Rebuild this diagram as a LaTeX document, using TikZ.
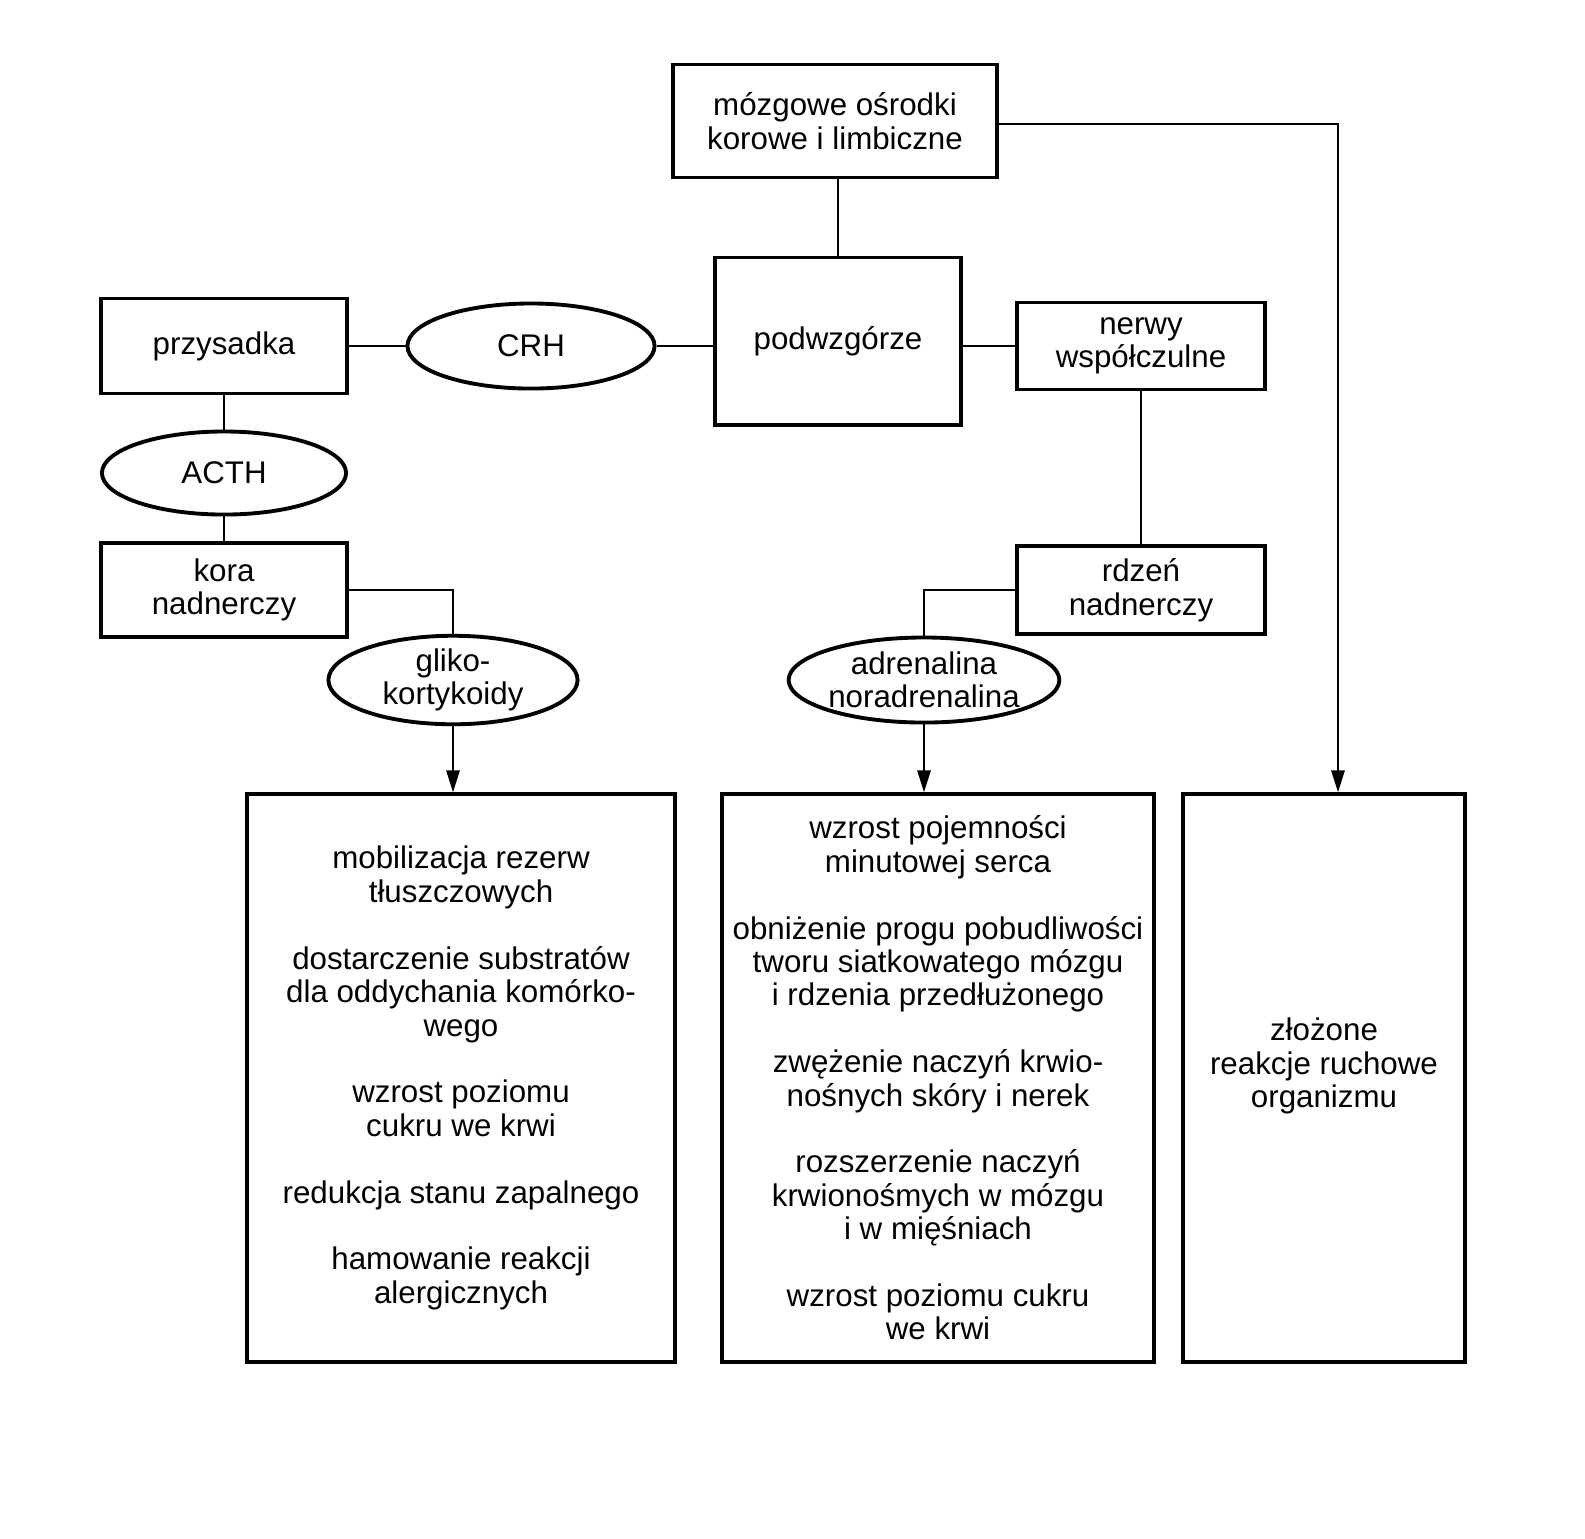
\documentclass[tikz,border=0pt]{standalone}
\usepackage{fontspec}
\setmainfont{Liberation Sans}
\usetikzlibrary{shapes.geometric,arrows.meta}
\begin{document}
\begin{tikzpicture}[x=0.01cm,y=-0.01cm,
  font=\fontsize{8.9}{9.5}\selectfont,
  box/.style={draw,line width=1.1pt,align=center,inner sep=0pt},
  oval/.style={draw,ellipse,line width=1.1pt,align=center,inner sep=0pt},
  link/.style={line width=0.8pt},
  arr/.style={line width=0.8pt,-{Triangle[length=0.22cm,width=0.13cm]}}]
 \useasboundingbox (0,0) rectangle (1585,1538);
 % upper part
 \node[box,minimum width=3.24cm,minimum height=1.13cm] (mozg) at (835,121) {mózgowe ośrodki\\korowe i limbiczne};
 \node[box,minimum width=2.46cm,minimum height=1.67cm] (podw) at (838,341) {podwzgórze};
 \node[oval,minimum width=2.47cm,minimum height=0.85cm] (crh) at (531,346) {CRH};
 \node[box,minimum width=2.45cm,minimum height=0.95cm] (przys) at (224,346) {przysadka};
 \node[oval,minimum width=2.44cm,minimum height=0.83cm] (acth) at (224,473) {ACTH};
 \node[box,minimum width=2.45cm,minimum height=0.94cm] (kora) at (224,590) {kora\\nadnerczy};
 \node[oval,minimum width=2.49cm,minimum height=0.85cm] (gliko) at (453,680) {gliko-\\kortykoidy};
 \node[box,minimum width=2.48cm,minimum height=0.87cm] (nerwy) at (1141,346) {nerwy\\współczulne};
 \node[box,minimum width=2.48cm,minimum height=0.88cm] (rdzen) at (1141,590) {rdzeń\\nadnerczy};
 \node[oval,minimum width=2.52cm,minimum height=0.85cm] (adren) at (924,680) {adrenalina\\noradrenalina};
 % effects
 \node[box,minimum width=4.27cm,minimum height=5.67cm] (efg) at (461,1078) {mobilizacja rezerw\\tłuszczowych\\[\baselineskip]
  dostarczenie substratów\\dla oddychania komórko-\\wego\\[\baselineskip]
  wzrost poziomu\\cukru we krwi\\[\baselineskip]
  redukcja stanu zapalnego\\[\baselineskip]
  hamowanie reakcji\\alergicznych};
 \node[box,minimum width=4.32cm,minimum height=5.67cm] (efa) at (938,1078) {wzrost pojemności\\minutowej serca\\[\baselineskip]
  obniżenie progu pobudliwości\\tworu siatkowatego mózgu\\i rdzenia przedłużonego\\[\baselineskip]
  zwężenie naczyń krwio-\\nośnych skóry i nerek\\[\baselineskip]
  rozszerzenie naczyń\\krwionośmych w mózgu\\i w mięśniach\\[\baselineskip]
  wzrost poziomu cukru\\we krwi};
 \node[box,minimum width=2.82cm,minimum height=5.67cm] (efr) at (1324,1078) {};
 \node[align=center] (efrtxt) at ([yshift=0.12cm]efr.center) {złożone\\reakcje ruchowe\\organizmu};
 % connections
 \coordinate (turn) at (1338,124);
 \draw[link] (podw.north |- mozg.south) -- (podw.north);
 \draw[arr] (mozg.east |- turn) -- (turn) -- (turn |- efr.north);
 \draw[link] (przys) -- (crh);
 \draw[link] (crh.east) -- (crh.east -| podw.west);
 \draw[link] (podw.east |- nerwy.west) -- (nerwy.west);
 \draw[link] (nerwy.south) -- (rdzen.north);
 \draw[link] (przys.south) -- (acth.north);
 \draw[link] (acth.south) -- (kora.north);
 \draw[link] (kora.east) -| (gliko.north);
 \draw[arr] (gliko.south) -- (gliko.south |- efg.north);
 \draw[link] (rdzen.west) -| (adren.north);
 \draw[arr] (adren.south) -- (adren.south |- efa.north);
\end{tikzpicture}
\end{document}
